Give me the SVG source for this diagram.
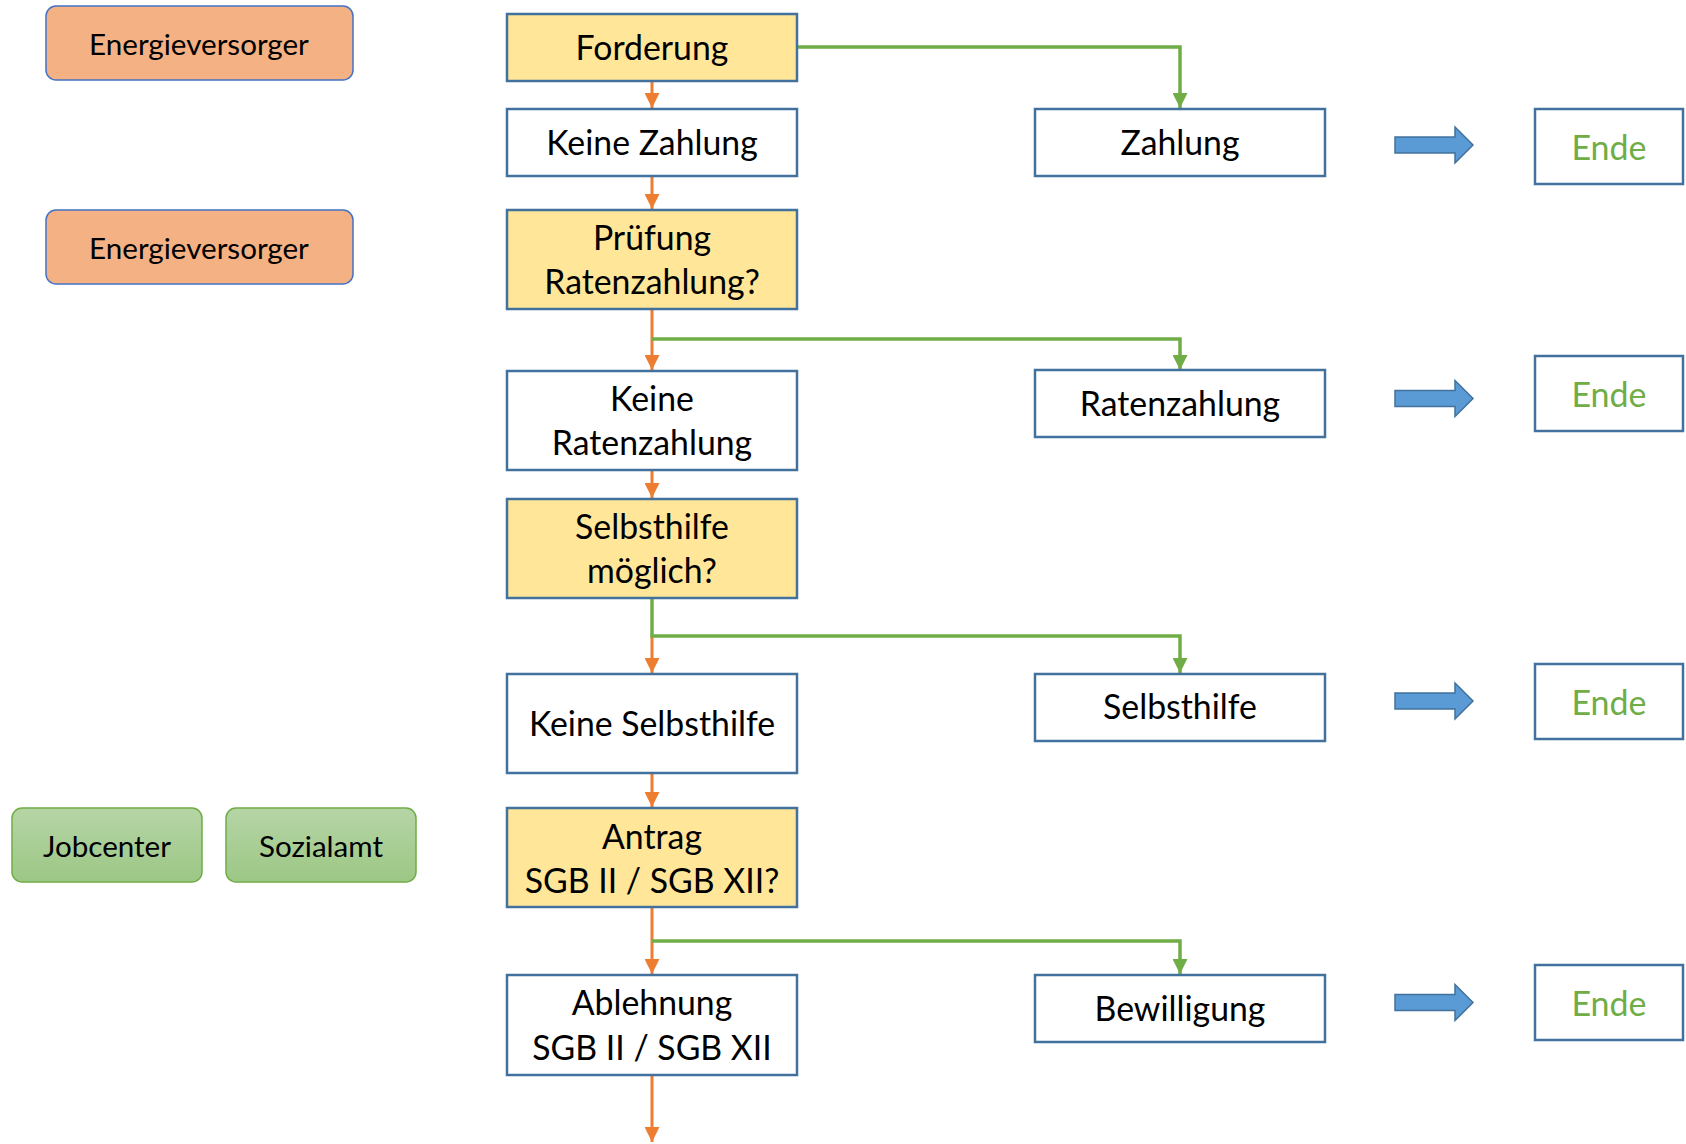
<svg xmlns="http://www.w3.org/2000/svg" width="1686" height="1144" viewBox="0 0 1686 1144">
<style>
.box{fill:#fff;stroke:#41719C;stroke-width:2.5}
.q{fill:#FFE699;stroke:#41719C;stroke-width:2.5}
.org{fill:#F4B183;stroke:#4472C4;stroke-width:1.5}
.grn{fill:url(#gg);stroke:#70AD47;stroke-width:1.5}
.t{font-family:Lato,"Open Sans",sans-serif;font-size:33.8px;fill:#000;text-anchor:middle;dominant-baseline:central}
.ts{font-family:Lato,"Open Sans",sans-serif;font-size:29.6px;fill:#000;text-anchor:middle;dominant-baseline:central}
.te{font-family:Lato,"Open Sans",sans-serif;font-size:34px;fill:#70AD47;text-anchor:middle;dominant-baseline:central}
.ol{fill:none;stroke:#ED7D31;stroke-width:3}
.gl{fill:none;stroke:#70AD47;stroke-width:3.5}
.ba{fill:#5B9BD5;stroke:#41719C;stroke-width:1.5}
</style>
<defs>
<linearGradient id="gg" x1="0" y1="0" x2="0" y2="1"><stop offset="0" stop-color="#B6D5A6"/><stop offset="1" stop-color="#9CC785"/></linearGradient>
<marker id="ao" markerUnits="userSpaceOnUse" markerWidth="16" markerHeight="15" refX="15" refY="7.5" orient="auto"><path d="M0,0 L15,7.5 L0,15 Z" fill="#ED7D31"/></marker>
<marker id="ag" markerUnits="userSpaceOnUse" markerWidth="16" markerHeight="15" refX="15" refY="7.5" orient="auto"><path d="M0,0 L15,7.5 L0,15 Z" fill="#70AD47"/></marker>
<path id="barrow" d="M1395,-8 H1455 V-18 L1473,0 L1455,18 V8 H1395 Z"/>
</defs>
<g id="connectors">
<path class="ol" d="M652,81 V108" marker-end="url(#ao)"/>
<path class="gl" d="M797,47 H1180 V108" marker-end="url(#ag)"/>
<path class="ol" d="M652,176 V209" marker-end="url(#ao)"/>
<path class="ol" d="M652,309 V370" marker-end="url(#ao)"/>
<path class="gl" d="M652,339 H1180 V370" marker-end="url(#ag)"/>
<path class="ol" d="M652,470 V498" marker-end="url(#ao)"/>
<path class="ol" d="M652,636 V673" marker-end="url(#ao)"/>
<path class="gl" d="M652,598 V636 H1180 V673" marker-end="url(#ag)"/>
<path class="ol" d="M652,773 V807" marker-end="url(#ao)"/>
<path class="ol" d="M652,907 V974" marker-end="url(#ao)"/>
<path class="gl" d="M652,941 H1180 V974" marker-end="url(#ag)"/>
<path class="ol" d="M652,1075 V1142" marker-end="url(#ao)"/>
<use href="#barrow" class="ba" transform="translate(0,145)"/>
<use href="#barrow" class="ba" transform="translate(0,398.5)"/>
<use href="#barrow" class="ba" transform="translate(0,701)"/>
<use href="#barrow" class="ba" transform="translate(0,1002.5)"/>
</g>
<g id="ev1"><rect class="org" x="46" y="6" width="307" height="74" rx="10"/><text class="ts" x="199" y="43">Energieversorger</text></g>
<g id="ev2"><rect class="org" x="46" y="210" width="307" height="74" rx="10"/><text class="ts" x="199" y="247">Energieversorger</text></g>
<g id="jobcenter"><rect class="grn" x="12" y="808" width="190" height="74" rx="10"/><text class="ts" x="107" y="845">Jobcenter</text></g>
<g id="sozialamt"><rect class="grn" x="226" y="808" width="190" height="74" rx="10"/><text class="ts" x="321" y="845">Sozialamt</text></g>
<g id="forderung"><rect class="q" x="507" y="14" width="290" height="67"/><text class="t" x="652" y="47">Forderung</text></g>
<g id="keinezahlung"><rect class="box" x="507" y="109" width="290" height="67"/><text class="t" x="652" y="142">Keine Zahlung</text></g>
<g id="pruefung"><rect class="q" x="507" y="210" width="290" height="99"/><text class="t" x="652" y="237">Prüfung</text><text class="t" x="652" y="281">Ratenzahlung?</text></g>
<g id="keineraten"><rect class="box" x="507" y="371" width="290" height="99"/><text class="t" x="652" y="398">Keine</text><text class="t" x="652" y="442">Ratenzahlung</text></g>
<g id="selbsthilfemoeglich"><rect class="q" x="507" y="499" width="290" height="99"/><text class="t" x="652" y="526">Selbsthilfe</text><text class="t" x="652" y="570">möglich?</text></g>
<g id="keineselbsthilfe"><rect class="box" x="507" y="674" width="290" height="99"/><text class="t" x="652" y="723">Keine Selbsthilfe</text></g>
<g id="antrag"><rect class="q" x="507" y="808" width="290" height="99"/><text class="t" x="652" y="836">Antrag</text><text class="t" x="652" y="880">SGB II / SGB XII?</text></g>
<g id="ablehnung"><rect class="box" x="507" y="975" width="290" height="100"/><text class="t" x="652" y="1002">Ablehnung</text><text class="t" x="652" y="1047">SGB II / SGB XII</text></g>
<g id="zahlung"><rect class="box" x="1035" y="109" width="290" height="67"/><text class="t" x="1180" y="142">Zahlung</text></g>
<g id="ratenzahlung"><rect class="box" x="1035" y="370" width="290" height="67"/><text class="t" x="1180" y="403">Ratenzahlung</text></g>
<g id="selbsthilfe"><rect class="box" x="1035" y="674" width="290" height="67"/><text class="t" x="1180" y="706">Selbsthilfe</text></g>
<g id="bewilligung"><rect class="box" x="1035" y="975" width="290" height="67"/><text class="t" x="1180" y="1008">Bewilligung</text></g>
<g id="ende1"><rect class="box" x="1535" y="109" width="148" height="75"/><text class="te" x="1609" y="146">Ende</text></g>
<g id="ende2"><rect class="box" x="1535" y="356" width="148" height="75"/><text class="te" x="1609" y="393">Ende</text></g>
<g id="ende3"><rect class="box" x="1535" y="664" width="148" height="75"/><text class="te" x="1609" y="701">Ende</text></g>
<g id="ende4"><rect class="box" x="1535" y="965" width="148" height="75"/><text class="te" x="1609" y="1002">Ende</text></g>
</svg>
